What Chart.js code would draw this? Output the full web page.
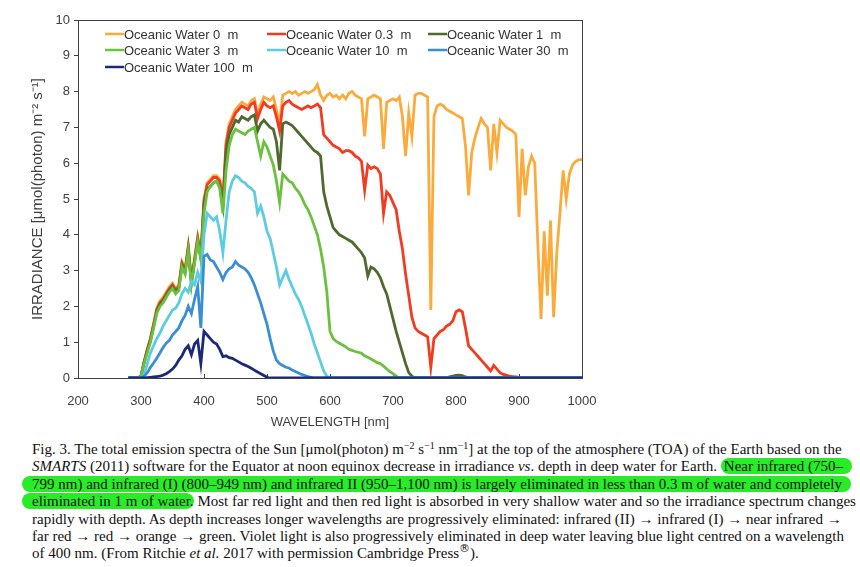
<!DOCTYPE html>
<html>
<head>
<meta charset="utf-8">
<script src="https://cdn.jsdelivr.net/npm/chart.js@4.4.1/dist/chart.umd.min.js"></script>
<style>
  body { margin: 0; background: #fff; }
  #wrap { position: relative; width: 860px; height: 430px; }
  #cap {
    position: absolute; left: 32px; top: 441px; width: 808px;
    font-family: "Liberation Serif", "Times New Roman", serif;
    font-size: 15px; line-height: 17.4px; color: #111;
  }
  #cap div { text-align: justify; text-align-last: justify; white-space: nowrap; }
  #cap div.last { text-align-last: left; }
  #cap sup { font-size: 10px; line-height: 0; vertical-align: 5px; }
  #cap sup.reg { font-size: 11px; font-family: "DejaVu Sans", sans-serif; vertical-align: 6px; }
  .hl { background: rgb(40, 236, 40); border-radius: 9px; }
  .hl.l { padding-left: 10px; margin-left: -10px; }
  .hl.r { padding-right: 9px; margin-right: -9px; }
  .hl.s { padding-left: 3px; }
</style>
</head>
<body>
<div id="wrap"><canvas id="chart" width="860" height="430"></canvas></div>
<div id="cap">
  <div>Fig. 3. The total emission spectra of the Sun [μmol(photon) m<sup>−2</sup> s<sup>−1</sup> nm<sup>−1</sup>] at the top of the atmosphere (TOA) of the Earth based on the</div>
  <div><i>SMARTS</i> (2011) software for the Equator at noon equinox decrease in irradiance <i>vs</i>. depth in deep water for Earth. <span class="hl s r">Near infrared (750–</span></div>
  <div><span class="hl l r">799 nm) and infrared (I) (800–949 nm) and infrared II (950–1,100 nm) is largely eliminated in less than 0.3 m of water and completely</span></div>
  <div><span class="hl l">eliminated in 1 m of water.</span> Most far red light and then red light is absorbed in very shallow water and so the irradiance spectrum changes</div>
  <div>rapidly with depth. As depth increases longer wavelengths are progressively eliminated: infrared (II) → infrared (I) → near infrared →</div>
  <div>far red → red → orange → green. Violet light is also progressively eliminated in deep water leaving blue light centred on a wavelength</div>
  <div class="last">of 400 nm. (From Ritchie <i>et al.</i> 2017 with permission Cambridge Press<sup class="reg">®</sup>).</div>
</div>
<script>
// wavelength grid, nm
const wavelengths = [
  280,285,290,295,300,305,310,315,320,325,330,335,340,345,350,355,360,365,370,375,
  380,385,390,395,400,405,410,415,420,425,430,435,440,445,450,455,460,465,470,475,
  480,485,490,495,500,505,510,515,520,525,530,535,540,545,550,555,560,565,570,575,
  580,585,590,595,600,605,610,615,620,625,630,635,640,645,650,655,660,665,670,675,
  680,685,690,695,700,705,710,715,720,725,730,735,740,745,750,755,760,765,770,775,
  780,785,790,795,800,805,810,815,820,825,830,835,840,845,850,855,860,865,870,875,
  880,885,890,895,900,905,910,915,920,925,930,935,940,945,950,955,960,965,970,975,
  980,985,990,995,1000
];

const labels = ['Oceanic Water 0  m', 'Oceanic Water 0.3  m', 'Oceanic Water 1  m',
  'Oceanic Water 3  m', 'Oceanic Water 10  m', 'Oceanic Water 30  m', 'Oceanic Water 100  m'];

// irradiance, umol(photon) m-2 s-1
const water0 = [
  0,0,0,0,0.05,0.45,0.8,1.1,1.5,1.95,2.15,2.25,2.4,2.55,2.65,2.5,2.6,3.25,3.05,3.7,
  2.75,3.35,3.95,3.45,5.0,5.45,5.55,5.65,5.65,5.55,4.95,6.6,7.1,7.3,7.5,7.6,7.7,7.65,7.6,7.75,
  7.8,7.35,7.65,7.85,7.8,7.75,7.85,7.5,7.1,7.9,7.95,8.0,7.95,8.0,7.9,7.95,8.0,7.95,8.0,8.05,
  8.2,7.9,7.75,7.9,7.95,7.85,7.9,7.8,7.9,7.8,7.95,8.0,7.9,7.85,7.8,6.75,7.8,7.85,7.9,7.85,
  7.8,6.4,7.7,7.75,7.8,7.75,7.85,7.3,6.2,7.4,6.75,7.9,7.95,7.95,7.9,7.85,1.9,7.3,7.6,7.65,
  7.6,7.5,7.45,7.4,7.35,7.3,7.25,6.5,5.1,6.3,6.7,7.0,7.25,7.1,7.0,5.8,7.1,6.3,7.2,7.1,
  7.0,6.95,6.9,6.8,4.5,6.4,5.1,5.9,6.2,6.0,3.7,1.65,4.1,2.3,4.4,1.7,3.5,4.6,5.8,5.0,
  5.7,5.95,6.05,6.1,6.1
];
const water03 = [
  0,0,0,0,0.05,0.45,0.8,1.1,1.5,1.9,2.1,2.2,2.35,2.5,2.6,2.45,2.55,3.2,3.0,3.65,
  2.7,3.3,3.9,3.4,4.95,5.4,5.5,5.6,5.6,5.5,4.9,6.5,7.0,7.2,7.4,7.5,7.6,7.55,7.5,7.65,
  7.7,7.25,7.5,7.7,7.6,7.55,7.6,7.3,6.9,7.6,7.7,7.75,7.65,7.6,7.55,7.5,7.55,7.6,7.55,7.6,
  7.65,7.55,6.8,6.7,6.6,6.5,6.45,6.4,6.3,6.35,6.35,6.3,6.2,6.15,6.05,5.25,5.95,5.85,5.9,5.85,
  5.7,4.6,5.2,5.1,4.9,4.7,4.1,3.6,2.9,2.3,1.7,1.4,1.3,1.25,1.2,1.15,0.3,1.1,1.2,1.3,
  1.35,1.45,1.5,1.6,1.85,1.9,1.85,1.4,0.9,0.8,0.7,0.6,0.5,0.4,0.3,0.2,0.35,0.25,0.15,0.1,
  0.08,0.05,0.04,0.03,0.02,0.01,0,0,0,0,0,0,0,0,0,0,0,0,0,0,
  0,0,0,0,0
];
const water1 = [
  0,0,0,0,0.05,0.45,0.75,1.05,1.45,1.85,2.05,2.15,2.3,2.45,2.55,2.4,2.5,3.15,2.95,3.6,
  2.65,3.25,3.85,3.35,4.85,5.25,5.35,5.45,5.5,5.35,4.8,6.3,6.8,7.0,7.2,7.15,7.3,7.25,7.2,7.3,
  7.35,6.9,7.1,7.2,7.1,7.0,6.95,6.6,5.8,7.1,7.15,7.1,7.05,6.95,6.85,6.75,6.65,6.55,6.45,6.35,
  6.3,6.2,5.2,4.8,4.5,4.2,4.1,4.0,3.95,3.9,3.85,3.8,3.7,3.6,3.5,3.35,2.85,3.1,3.05,2.95,
  2.8,2.55,2.35,2.0,1.65,1.3,1.0,0.7,0.4,0.15,0.05,0,0,0,0,0,0,0,0,0,
  0,0.01,0.03,0.05,0.07,0.08,0.07,0.03,0,0,0,0,0,0,0,0,0,0,0,0,
  0,0,0,0,0,0,0,0,0,0,0,0,0,0,0,0,0,0,0,0,
  0,0,0,0,0
];
const water3 = [
  0,0,0,0,0.05,0.4,0.7,1.0,1.4,1.8,2.0,2.1,2.25,2.4,2.5,2.35,2.45,3.1,2.9,3.55,
  2.6,3.2,3.8,3.3,4.6,5.2,5.35,5.45,5.5,5.3,4.6,5.8,6.5,6.8,6.95,6.9,6.85,6.8,6.9,6.95,
  7.0,6.6,6.2,6.6,6.45,6.2,5.95,5.5,4.9,5.7,5.6,5.5,5.45,5.3,5.2,5.05,4.85,4.7,4.5,4.25,
  4.0,3.6,3.1,2.4,1.3,1.1,1.02,0.97,0.92,0.87,0.8,0.77,0.74,0.72,0.69,0.62,0.58,0.53,0.48,0.43,
  0.4,0.33,0.25,0.18,0.12,0.05,0,0,0,0,0,0,0,0,0,0,0,0,0,0,
  0,0,0,0,0,0,0,0,0,0,0,0,0,0,0,0,0,0,0,0,
  0,0,0,0,0,0,0,0,0,0,0,0,0,0,0,0,0,0,0,0,
  0,0,0,0,0
];
const water10 = [
  0,0,0,0,0,0.1,0.4,0.7,0.9,1.1,1.25,1.45,1.6,1.75,1.9,1.95,2.1,2.35,2.5,2.4,
  2.7,2.6,2.95,2.7,4.0,4.6,4.5,4.4,4.5,4.1,3.5,4.4,5.2,5.5,5.65,5.6,5.5,5.45,5.35,5.3,
  5.2,4.6,4.8,4.5,4.1,3.9,3.5,3.1,2.6,2.8,3.0,2.75,2.55,2.35,2.2,2.0,1.75,1.5,1.25,0.95,
  0.7,0.45,0.2,0.05,0,0,0,0,0,0,0,0,0,0,0,0,0,0,0,0,
  0,0,0,0,0,0,0,0,0,0,0,0,0,0,0,0,0,0,0,0,
  0,0,0,0,0,0,0,0,0,0,0,0,0,0,0,0,0,0,0,0,
  0,0,0,0,0,0,0,0,0,0,0,0,0,0,0,0,0,0,0,0,
  0,0,0,0,0
];
const water30 = [
  0,0,0,0,0,0.05,0.15,0.3,0.42,0.55,0.7,0.85,0.97,1.05,1.2,1.3,1.4,1.6,1.75,2.0,
  1.8,2.2,2.55,1.4,3.4,3.45,3.3,3.25,3.1,2.95,2.75,2.95,3.05,3.1,3.25,3.15,3.1,3.05,2.95,2.8,
  2.6,2.35,2.1,1.8,1.5,1.1,0.75,0.5,0.4,0.35,0.3,0.28,0.22,0.18,0.14,0.1,0.07,0.04,0.02,0,
  0,0,0,0,0,0,0,0,0,0,0,0,0,0,0,0,0,0,0,0,
  0,0,0,0,0,0,0,0,0,0,0,0,0,0,0,0,0,0,0,0,
  0,0,0,0,0,0,0,0,0,0,0,0,0,0,0,0,0,0,0,0,
  0,0,0,0,0,0,0,0,0,0,0,0,0,0,0,0,0,0,0,0,
  0,0,0,0,0
];
const water100 = [
  0,0,0,0,0,0,0.01,0.02,0.03,0.04,0.05,0.08,0.12,0.18,0.25,0.35,0.5,0.62,0.8,0.9,
  0.65,0.95,1.05,0.4,1.3,1.2,1.1,1.0,0.95,0.8,0.6,0.62,0.57,0.55,0.5,0.45,0.4,0.36,0.32,0.27,
  0.22,0.17,0.12,0.07,0.02,0,0,0,0,0,0,0,0,0,0,0,0,0,0,0,
  0,0,0,0,0,0,0,0,0,0,0,0,0,0,0,0,0,0,0,0,
  0,0,0,0,0,0,0,0,0,0,0,0,0,0,0,0,0,0,0,0,
  0,0,0,0,0,0,0,0,0,0,0,0,0,0,0,0,0,0,0,0,
  0,0,0,0,0,0,0,0,0,0,0,0,0,0,0,0,0,0,0,0,
  0,0,0,0,0
];

const series = [water0, water03, water1, water3, water10, water30, water100];
const colors = ['#FBAB3C', '#F23B20', '#4F6A2D', '#6CC040', '#5DCBE0', '#3A8ED5', '#1B2A78'];
const ink = '#404040';
const sans = '"Liberation Sans", Arial, sans-serif';

const datasets = series.map((vals, i) => ({
  label: labels[i],
  data: vals.map((v, k) => ({x: wavelengths[k], y: v})),
  borderColor: colors[i],
  backgroundColor: colors[i],
  borderWidth: 2.8,
  pointRadius: 0,
  tension: 0,
  order: series.length - i   // deeper water drawn on top
}));

// box around plot + inward x ticks
const frame = {
  id: 'frame',
  beforeDatasetsDraw(chart) {
    const {ctx, chartArea: a, scales} = chart;
    ctx.save();
    ctx.strokeStyle = ink;
    ctx.lineWidth = 1;
    ctx.strokeRect(a.left + 0.5, a.top + 0.5, a.right - a.left, a.bottom - a.top);
    ctx.beginPath();
    scales.x.ticks.forEach(t => {
      const px = Math.round(scales.x.getPixelForValue(t.value)) + 0.5;
      ctx.moveTo(px, a.bottom);
      ctx.lineTo(px, a.bottom - 4);
    });
    ctx.stroke();
    ctx.restore();
  }
};

// legend in three columns inside the plot
const legendBox = {
  id: 'legendBox',
  afterDraw(chart) {
    const ctx = chart.ctx;
    const cols = [105, 267, 428];
    const rows = [34, 50, 67];
    ctx.save();
    ctx.font = '13px ' + sans;
    ctx.textBaseline = 'middle';
    chart.data.datasets.forEach((ds, i) => {
      const x = cols[i % 3], y = rows[Math.floor(i / 3)];
      ctx.strokeStyle = ds.borderColor;
      ctx.lineWidth = 2.5;
      ctx.beginPath();
      ctx.moveTo(x, y);
      ctx.lineTo(x + 19, y);
      ctx.stroke();
      ctx.fillStyle = '#333';
      ctx.fillText(ds.label, x + 19, y + 1);
    });
    ctx.restore();
  }
};

new Chart(document.getElementById('chart'), {
  type: 'line',
  data: {datasets: datasets},
  plugins: [frame, legendBox],
  options: {
    responsive: false,
    animation: false,
    layout: {padding: {left: 0, top: 20, right: 278, bottom: 0}},
    plugins: {legend: {display: false}, tooltip: {enabled: false}},
    scales: {
      x: {
        type: 'linear', min: 200, max: 1000,
        ticks: {stepSize: 100, color: ink, font: {family: sans, size: 13}, padding: 8, maxRotation: 0,
                callback: v => String(v)},
        grid: {display: false},
        border: {display: false},
        title: {display: true, text: 'WAVELENGTH [nm]', color: ink, font: {family: sans, size: 13}, padding: {top: 2, bottom: 0}},
        afterFit: s => { s.height = 52; }
      },
      y: {
        min: 0, max: 10,
        ticks: {stepSize: 1, color: ink, font: {family: sans, size: 13}, padding: 4},
        grid: {drawOnChartArea: false, tickLength: 4, color: ink},
        border: {display: false},
        title: {display: true, text: 'IRRADIANCE [μmol(photon) m⁻² s⁻¹]', color: ink, font: {family: sans, size: 15}, padding: {top: 29, bottom: 0}},
        afterFit: s => { s.width = 78; }
      }
    }
  }
});
</script>
</body>
</html>
